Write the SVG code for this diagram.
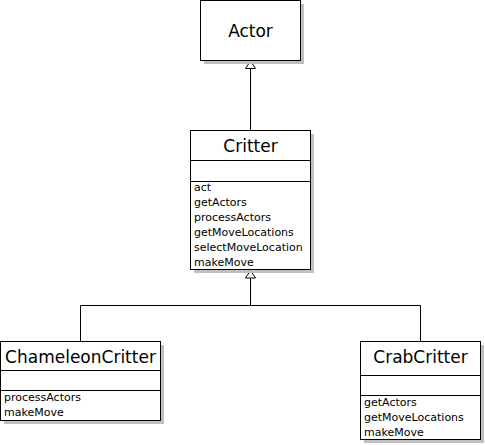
<svg xmlns="http://www.w3.org/2000/svg" width="485" height="445" viewBox="0 0 485 445">
<style>
.box{fill:#fff;stroke:#000;stroke-width:1}
.sh{fill:#c0c0c0}
.ln{stroke:#000;stroke-width:1;fill:none}
.title{font-family:"DejaVu Sans",sans-serif;font-size:17px;fill:#000;text-anchor:middle}
.m{font-family:"DejaVu Sans",sans-serif;font-size:11px;fill:#000}
.tri{fill:#fff;stroke:#000;stroke-width:1}
</style>
<rect width="485" height="445" fill="#fff"/>
<g id="connectors">
<line class="ln" x1="250.5" y1="68" x2="250.5" y2="130.5"/>
<path class="tri" d="M250.5,61 L245.5,68.5 L255.5,68.5 Z"/>
<line class="ln" x1="250.5" y1="278" x2="250.5" y2="305.5"/>
<path class="ln" d="M80.5,341.5 V305.5 H420.5 V341.5"/>
<path class="tri" d="M250.5,270.5 L245.5,278 L255.5,278 Z"/>
</g>
<g id="Actor">
<rect class="sh" x="204" y="4" width="100" height="60"/>
<rect class="box" x="200.5" y="0.5" width="100" height="60"/>
<text class="title" x="250.5" y="37">Actor</text>
</g>
<g id="Critter">
<rect class="sh" x="194" y="134" width="120" height="139"/>
<rect class="box" x="190.5" y="130.5" width="120" height="139"/>
<line class="ln" x1="190.5" y1="160.5" x2="310.5" y2="160.5"/>
<line class="ln" x1="190.5" y1="181.5" x2="310.5" y2="181.5"/>
<text class="title" x="250.5" y="152">Critter</text>
<text class="m" x="194" y="191">act</text>
<text class="m" x="194" y="206">getActors</text>
<text class="m" x="194" y="221">processActors</text>
<text class="m" x="194" y="236">getMoveLocations</text>
<text class="m" x="194" y="251">selectMoveLocation</text>
<text class="m" x="194" y="266">makeMove</text>
</g>
<g id="ChameleonCritter">
<rect class="sh" x="4" y="345" width="160" height="79"/>
<rect class="box" x="0.5" y="341.5" width="160" height="79"/>
<line class="ln" x1="0.5" y1="370.5" x2="160.5" y2="370.5"/>
<line class="ln" x1="0.5" y1="390.5" x2="160.5" y2="390.5"/>
<text class="title" x="80.5" y="363">ChameleonCritter</text>
<text class="m" x="4" y="401">processActors</text>
<text class="m" x="4" y="416">makeMove</text>
</g>
<g id="CrabCritter">
<rect class="sh" x="364" y="345" width="120" height="98"/>
<rect class="box" x="360.5" y="341.5" width="120" height="98"/>
<line class="ln" x1="360.5" y1="375.5" x2="480.5" y2="375.5"/>
<line class="ln" x1="360.5" y1="395.5" x2="480.5" y2="395.5"/>
<text class="title" x="420.5" y="363">CrabCritter</text>
<text class="m" x="364" y="406">getActors</text>
<text class="m" x="364" y="421">getMoveLocations</text>
<text class="m" x="364" y="436">makeMove</text>
</g>
</svg>
